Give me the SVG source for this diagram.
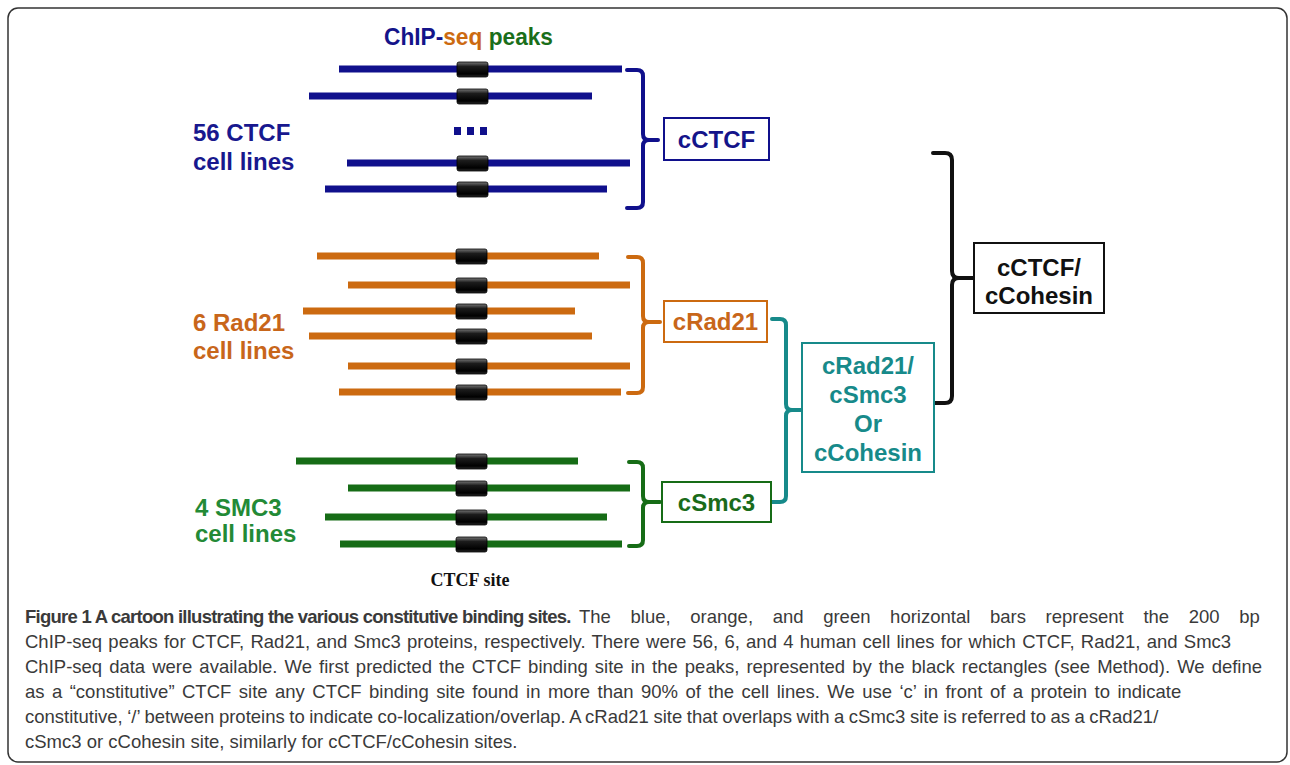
<svg xmlns="http://www.w3.org/2000/svg" xmlns:xlink="http://www.w3.org/1999/xlink" width="1290" height="765" viewBox="0 0 1290 765">
<style>
.lbl{font-family:"Liberation Sans",Arial,sans-serif;font-weight:bold;font-size:24px}
.box{fill:#fff;stroke-width:2}
.brace{fill:none;stroke-width:4;stroke-linecap:round;stroke-linejoin:round}
.bar{stroke-width:7;stroke-linecap:butt}
.cap{font-family:"Liberation Sans",Arial,sans-serif;font-size:18.5px;fill:#3a3a3a}
.blue{stroke:#10108c}
.orange{stroke:#cc6a10}
.green{stroke:#166c16}
.teal{stroke:#178a8a}
.black{stroke:#111}
</style>
<defs>
<linearGradient id="bevel" x1="0" y1="0" x2="0" y2="1">
<stop offset="0" stop-color="#777"/>
<stop offset="0.3" stop-color="#1c1c1c"/>
<stop offset="0.8" stop-color="#000"/>
<stop offset="1" stop-color="#2a2a2a"/>
</linearGradient>
<rect id="tile" width="31" height="15" rx="2" fill="url(#bevel)" stroke="#000" stroke-width="0.8"/>
</defs>
<rect x="8" y="8" width="1279" height="754" rx="10" fill="#fff" stroke="#333" stroke-width="1.5"/>

<text x="384" y="45" class="lbl" font-size="22" textLength="169" lengthAdjust="spacingAndGlyphs"><tspan fill="#14148a">ChIP-</tspan><tspan fill="#cc6a10">seq</tspan><tspan fill="#1a6e1a"> peaks</tspan></text>

<g id="ctcf-peaks">
<line class="bar blue" x1="339" y1="69" x2="622" y2="69"/>
<line class="bar blue" x1="309" y1="96" x2="592" y2="96"/>
<line class="bar blue" x1="347" y1="163" x2="630" y2="163"/>
<line class="bar blue" x1="325" y1="189" x2="607" y2="189"/>
<use xlink:href="#tile" x="457" y="62"/>
<use xlink:href="#tile" x="457" y="89"/>
<use xlink:href="#tile" x="457" y="156"/>
<use xlink:href="#tile" x="457" y="182"/>
<rect x="454" y="127" width="7" height="8" fill="#10108c"/>
<rect x="467" y="127" width="7" height="8" fill="#10108c"/>
<rect x="480" y="127" width="7" height="8" fill="#10108c"/>
<text x="193" y="141" class="lbl" fill="#18188e">56 CTCF</text>
<text x="193" y="170" class="lbl" fill="#18188e">cell lines</text>
</g>

<g id="rad21-peaks">
<line class="bar orange" x1="317" y1="256" x2="599" y2="256"/>
<line class="bar orange" x1="348" y1="285" x2="630" y2="285"/>
<line class="bar orange" x1="303" y1="311" x2="575" y2="311"/>
<line class="bar orange" x1="309" y1="336" x2="592" y2="336"/>
<line class="bar orange" x1="348" y1="366" x2="630" y2="366"/>
<line class="bar orange" x1="339" y1="392" x2="621" y2="392"/>
<use xlink:href="#tile" x="456" y="249"/>
<use xlink:href="#tile" x="456" y="278"/>
<use xlink:href="#tile" x="456" y="304"/>
<use xlink:href="#tile" x="456" y="329"/>
<use xlink:href="#tile" x="456" y="359"/>
<use xlink:href="#tile" x="456" y="385"/>
<text x="193" y="331" class="lbl" fill="#c8661a">6 Rad21</text>
<text x="193" y="359" class="lbl" fill="#c8661a">cell lines</text>
</g>

<g id="smc3-peaks">
<line class="bar green" x1="296" y1="461" x2="578" y2="461"/>
<line class="bar green" x1="348" y1="488" x2="630" y2="488"/>
<line class="bar green" x1="325" y1="517" x2="607" y2="517"/>
<line class="bar green" x1="340" y1="544" x2="622" y2="544"/>
<use xlink:href="#tile" x="456" y="454"/>
<use xlink:href="#tile" x="456" y="481"/>
<use xlink:href="#tile" x="456" y="510"/>
<use xlink:href="#tile" x="456" y="537"/>
<text x="195" y="516" class="lbl" fill="#238a36">4 SMC3</text>
<text x="195" y="542" class="lbl" fill="#238a36">cell lines</text>
</g>

<text x="470" y="586" font-family="Liberation Serif,'Times New Roman',serif" font-weight="bold" font-size="18" fill="#111" text-anchor="middle">CTCF site</text>

<g id="connectors">
<path class="brace blue" d="M627,70 H637 Q643,70 643,76 V134 Q643,140 649,140 H658 M649,140 Q643,140 643,146 V202 Q643,208 637,208 H627"/>
<path class="brace orange" d="M628,257 H637 Q643,257 643,263 V316 Q643,322 649,322 H660 M649,322 Q643,322 643,328 V387 Q643,393 637,393 H628"/>
<path class="brace green" d="M629,462 H637 Q643,462 643,468 V496 Q643,502 649,502 H660 M649,502 Q643,502 643,508 V540 Q643,546 637,546 H629"/>
<path class="brace teal" d="M772,319 H780 Q786,319 786,325 V404 Q786,410 792,410 H802 M792,410 Q786,410 786,416 V496 Q786,502 780,502 H772"/>
<path class="brace black" stroke-width="4.5" d="M933,153 H945 Q952,153 952,160 V271 Q952,278 959,278 H974 M959,278 Q952,278 952,285 V396 Q952,403 945,403 H935"/>
</g>

<g id="cCTCF">
<rect class="box blue" x="664" y="118" width="105" height="42"/>
<text x="716.5" y="148" class="lbl" fill="#14148a" text-anchor="middle">cCTCF</text>
</g>
<g id="cRad21">
<rect class="box orange" x="664" y="301" width="103" height="41"/>
<text x="715.5" y="330" class="lbl" fill="#c8661a" text-anchor="middle">cRad21</text>
</g>
<g id="cSmc3">
<rect class="box green" x="662" y="482" width="109" height="40"/>
<text x="716.5" y="511" class="lbl" fill="#1a6b1a" text-anchor="middle">cSmc3</text>
</g>
<g id="cCohesin">
<rect class="box teal" x="802" y="343" width="132" height="129"/>
<g class="lbl" fill="#178a8a" text-anchor="middle">
<text x="868" y="374">cRad21/</text>
<text x="868" y="403">cSmc3</text>
<text x="868" y="432">Or</text>
<text x="868" y="461">cCohesin</text>
</g>
</g>
<g id="cCTCF-cCohesin">
<rect class="box black" x="974" y="243" width="130" height="70"/>
<g class="lbl" fill="#111" text-anchor="middle">
<text x="1039" y="276">cCTCF/</text>
<text x="1039" y="304">cCohesin</text>
</g>
</g>

<g id="caption">
<text x="25" y="623" class="cap" font-weight="bold" fill="#222" letter-spacing="-0.75">Figure 1 A cartoon illustrating the various constitutive binding sites.</text>
<text x="579" y="623" class="cap" word-spacing="14.5">The blue, orange, and green horizontal bars represent the 200 bp</text>
<text x="25" y="648" class="cap" word-spacing="1.1">ChIP-seq peaks for CTCF, Rad21, and Smc3 proteins, respectively. There were 56, 6, and 4 human cell lines for which CTCF, Rad21, and Smc3</text>
<text x="25" y="673" class="cap" word-spacing="1.9">ChIP-seq data were available. We first predicted the CTCF binding site in the peaks, represented by the black rectangles (see Method). We define</text>
<text x="25" y="698" class="cap" word-spacing="2.3">as a “constitutive” CTCF site any CTCF binding site found in more than 90% of the cell lines. We use ‘c’ in front of a protein to indicate</text>
<text x="25" y="723" class="cap" word-spacing="-0.6">constitutive, ‘/’ between proteins to indicate co-localization/overlap. A cRad21 site that overlaps with a cSmc3 site is referred to as a cRad21/</text>
<text x="25" y="748" class="cap">cSmc3 or cCohesin site, similarly for cCTCF/cCohesin sites.</text>
</g>
</svg>
